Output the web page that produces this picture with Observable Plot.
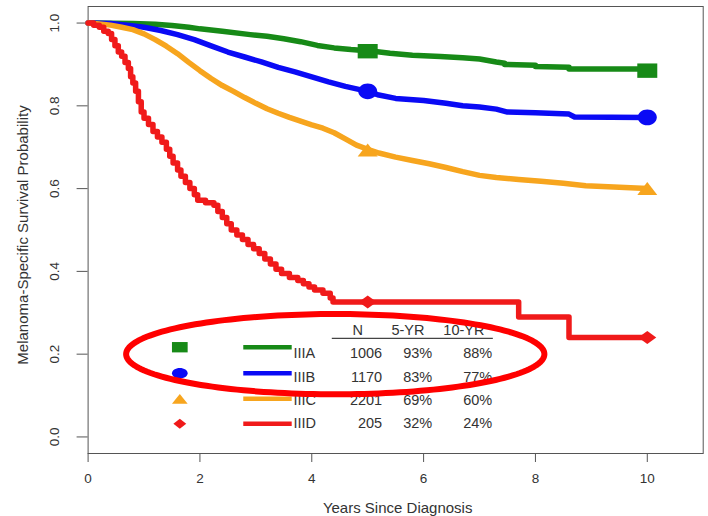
<!DOCTYPE html>
<html><head><meta charset="utf-8">
<script src="https://cdn.jsdelivr.net/npm/d3@7"></script>
<script src="https://cdn.jsdelivr.net/npm/@observablehq/plot@0.6"></script>
<style>
html,body{margin:0;padding:0;background:#fff;}
#chart svg{display:block;}
</style></head><body><div id="chart"></div>
<script>
// ---------- data ----------
const stages = ["IIIA", "IIIB", "IIIC", "IIID"];
const nPatients = ["1006", "1170", "2201", "205"];
const fiveYear = ["93%", "83%", "69%", "32%"];
const tenYear = ["88%", "77%", "60%", "24%"];
const headers = ["N", "5-YR", "10-YR"];
const xTicks = [0, 2, 4, 6, 8, 10];
const yTicks = [0, 0.2, 0.4, 0.6, 0.8, 1.0];
const markerYears = [5, 10];
const markerIIIA = [0.932, 0.885];
const markerIIIB = [0.835, 0.772];
const markerIIIC = [0.693, 0.600];
const markerIIID = [0.326, 0.240];

const survIIIA = [[0,1],[0.8,0.999],[1.2,0.997],[1.5,0.994],[1.8,0.99],[2.0,0.986],[2.4,0.98],[2.9,0.972],[3.2,0.968],[3.5,0.962],[3.8,0.955],[4.1,0.946],[4.4,0.94],[4.7,0.936],[5.1,0.932],[5.4,0.927],[5.8,0.922],[6.3,0.919],[6.7,0.916],[7.0,0.913],[7.3,0.906],[7.45,0.903],[7.45,0.9],[8.0,0.898],[8.0,0.895],[8.6,0.893],[8.6,0.889],[10,0.889]];
const survIIIB = [[0,1],[0.4,0.999],[0.7,0.995],[1.0,0.99],[1.3,0.982],[1.6,0.972],[1.9,0.96],[2.2,0.945],[2.5,0.93],[2.8,0.918],[3.1,0.906],[3.4,0.893],[3.7,0.882],[4.0,0.87],[4.3,0.858],[4.6,0.847],[4.9,0.838],[5.0,0.835],[5.2,0.826],[5.5,0.818],[6.0,0.813],[6.4,0.806],[6.7,0.8],[7.0,0.797],[7.3,0.792],[7.5,0.785],[8.0,0.783],[8.6,0.78],[8.7,0.773],[10,0.772]];
const survIIIC = [[0,1],[0.2,0.998],[0.4,0.995],[0.6,0.99],[0.8,0.984],[1.0,0.974],[1.2,0.96],[1.4,0.944],[1.6,0.926],[1.8,0.905],[2.0,0.885],[2.2,0.866],[2.4,0.849],[2.6,0.835],[2.8,0.82],[3.0,0.806],[3.2,0.793],[3.4,0.782],[3.6,0.772],[3.8,0.763],[4.0,0.754],[4.2,0.746],[4.4,0.735],[4.6,0.72],[4.8,0.705],[5.0,0.695],[5.2,0.686],[5.5,0.676],[5.8,0.668],[6.1,0.66],[6.4,0.651],[6.7,0.641],[7.0,0.632],[7.3,0.627],[7.7,0.622],[8.1,0.618],[8.5,0.613],[8.9,0.607],[9.4,0.604],[10,0.6]];
const survIIID = [[0,1],[0.1,0.995],[0.2,0.99],[0.28,0.98],[0.36,0.975],[0.42,0.96],[0.48,0.945],[0.54,0.93],[0.6,0.92],[0.66,0.905],[0.72,0.89],[0.76,0.87],[0.8,0.855],[0.85,0.835],[0.9,0.81],[0.95,0.785],[1.0,0.77],[1.08,0.755],[1.16,0.738],[1.24,0.725],[1.32,0.712],[1.4,0.695],[1.46,0.678],[1.52,0.662],[1.6,0.645],[1.66,0.63],[1.74,0.615],[1.82,0.6],[1.9,0.585],[1.96,0.572],[2.1,0.566],[2.25,0.56],[2.32,0.545],[2.4,0.53],[2.48,0.515],[2.56,0.5],[2.66,0.488],[2.76,0.477],[2.86,0.465],[2.96,0.455],[3.06,0.443],[3.16,0.43],[3.26,0.418],[3.36,0.405],[3.46,0.395],[3.6,0.385],[3.75,0.378],[3.85,0.37],[3.95,0.362],[4.05,0.355],[4.2,0.347],[4.33,0.336],[4.38,0.326],[7.7,0.29],[8.6,0.24],[10,0.24]];

// ---------- styles / layout ----------
const colors = ["#178a17", "#0a0af5", "#f7a51e", "#f01a1a"];
const series = [survIIIA, survIIIB, survIIIC, survIIID];
const curves = ["linear", "linear", "linear", "step-after"];
const markers = [markerIIIA, markerIIIB, markerIIIC, markerIIID];
const font = "'Liberation Sans', Arial, Helvetica, sans-serif";

function rectSym(ax, ay) { return {draw(c, s) { const r = Math.sqrt(s / Math.PI), w = r * ax, h = r * ay; c.moveTo(-w, -h); c.lineTo(w, -h); c.lineTo(w, h); c.lineTo(-w, h); c.closePath(); }}; }
function ellSym(ax, ay) { return {draw(c, s) { const r = Math.sqrt(s / Math.PI), w = r * ax, h = r * ay, k = 0.5523; c.moveTo(w, 0); c.bezierCurveTo(w, h * k, w * k, h, 0, h); c.bezierCurveTo(-w * k, h, -w, h * k, -w, 0); c.bezierCurveTo(-w, -h * k, -w * k, -h, 0, -h); c.bezierCurveTo(w * k, -h, w, -h * k, w, 0); c.closePath(); }}; }
function triSym(ax, ay) { return {draw(c, s) { const r = Math.sqrt(s / Math.PI), w = r * ax, h = r * ay; c.moveTo(0, -h); c.lineTo(w, h); c.lineTo(-w, h); c.closePath(); }}; }
function diaSym(ax, ay) { return {draw(c, s) { const r = Math.sqrt(s / Math.PI), w = r * ax, h = r * ay; c.moveTo(0, -h); c.lineTo(w, 0); c.lineTo(0, h); c.lineTo(-w, 0); c.closePath(); }}; }
const chartSymbols = [rectSym(1.0, 0.72), ellSym(0.95, 0.78), triSym(1.0, 0.65), diaSym(0.9, 0.65)];
const legendSymbols = [rectSym(1.0, 0.66), ellSym(1.0, 0.66), triSym(1.0, 0.62), diaSym(0.82, 0.64)];

// legend layout (data coordinates)
const legSymX = 1.64, legLineX1 = 2.784, legLineX2 = 3.65, legLabelX = 3.673;
const legNX = 5.259, leg5X = 6.153, leg10X = 7.226;
const legHeadX = [4.823, 5.72, 6.72], legHeadY = 0.257, legRuleY = 0.238, legRuleX1 = 4.367, legRuleX2 = 7.247;
const legSymY = [0.2168, 0.154, 0.0922, 0.0318];
const legTextY = [0.2016, 0.1448, 0.088, 0.0318];
const ellipse = {cx: 4.42, cy: 0.2, rx: 3.74, ry: 0.097};

const ellipsePts = d3.range(0, 361, 2).map(a => [ellipse.cx + ellipse.rx * Math.cos(a * Math.PI / 180), ellipse.cy + ellipse.ry * Math.sin(a * Math.PI / 180)]);

const marks = [
  Plot.frame({stroke: "#555", strokeWidth: 1}),
  Plot.axisX({ticks: xTicks, tickSize: 9, tickPadding: 11, label: null, fontSize: 13.5, stroke: "#555", fill: "#333", fontFamily: font}),
  Plot.axisY({ticks: yTicks, tickFormat: d3.format(".1f"), tickSize: 11, tickPadding: 18, tickRotate: -90, label: null, fontSize: 13.5, stroke: "#555", fill: "#333", fontFamily: font}),
  Plot.text(["Years Since Diagnosis"], {frameAnchor: "bottom", dy: 55, dx: 2, textAnchor: "middle", lineAnchor: "middle", fontSize: 15, fill: "#333", fontFamily: font}),
  Plot.text(["Melanoma-Specific Survival Probability"], {frameAnchor: "left", dx: -65, dy: 5, rotate: -90, textAnchor: "middle", lineAnchor: "middle", fontSize: 15, fill: "#333", fontFamily: font})
];
series.forEach((s, i) => {
  marks.push(Plot.line(s, {x: d => d[0], y: d => d[1], curve: curves[i], stroke: colors[i], strokeWidth: 5.5}));
});
markers.forEach((m, i) => {
  marks.push(Plot.dot(markerYears, {x: d => d, y: (d, j) => m[j], r: 10, symbol: chartSymbols[i], fill: colors[i], stroke: "none"}));
});
// legend
stages.forEach((st, i) => {
  marks.push(Plot.dot([st], {x: () => legSymX, y: () => legSymY[i], r: 7.85, symbol: legendSymbols[i], fill: colors[i], stroke: "none"}));
  marks.push(Plot.ruleY([legSymY[i]], {x1: legLineX1, x2: legLineX2, stroke: colors[i], strokeWidth: 4.5}));
});
marks.push(Plot.text(stages, {x: () => legLabelX, y: (d, i) => legTextY[i], text: d => d, textAnchor: "start", fontSize: 14.5, fill: "#333", fontFamily: font}));
marks.push(Plot.text(nPatients, {x: () => legNX, y: (d, i) => legTextY[i], text: d => d, textAnchor: "end", fontSize: 14.5, fill: "#333", fontFamily: font}));
marks.push(Plot.text(fiveYear, {x: () => leg5X, y: (d, i) => legTextY[i], text: d => d, textAnchor: "end", fontSize: 14.5, fill: "#333", fontFamily: font}));
marks.push(Plot.text(tenYear, {x: () => leg10X, y: (d, i) => legTextY[i], text: d => d, textAnchor: "end", fontSize: 14.5, fill: "#333", fontFamily: font}));
marks.push(Plot.text(headers, {x: (d, i) => legHeadX[i], y: () => legHeadY, text: d => d, fontSize: 14.5, fill: "#333", fontFamily: font}));
marks.push(Plot.ruleY([legRuleY], {x1: legRuleX1, x2: legRuleX2, stroke: "#444", strokeWidth: 1.2}));
// annotation ellipse
marks.push(Plot.line(ellipsePts, {x: d => d[0], y: d => d[1], curve: "linear-closed", stroke: "#ff0000", strokeWidth: 6}));

const chart = Plot.plot({
  width: 708, height: 516,
  marginLeft: 87.6, marginRight: 5.3, marginTop: 6, marginBottom: 63,
  style: {fontFamily: font, background: "#fff"},
  x: {domain: [0, 11]},
  y: {domain: [-0.04, 1.04]},
  marks
});
document.getElementById("chart").appendChild(chart);
</script></body></html>
